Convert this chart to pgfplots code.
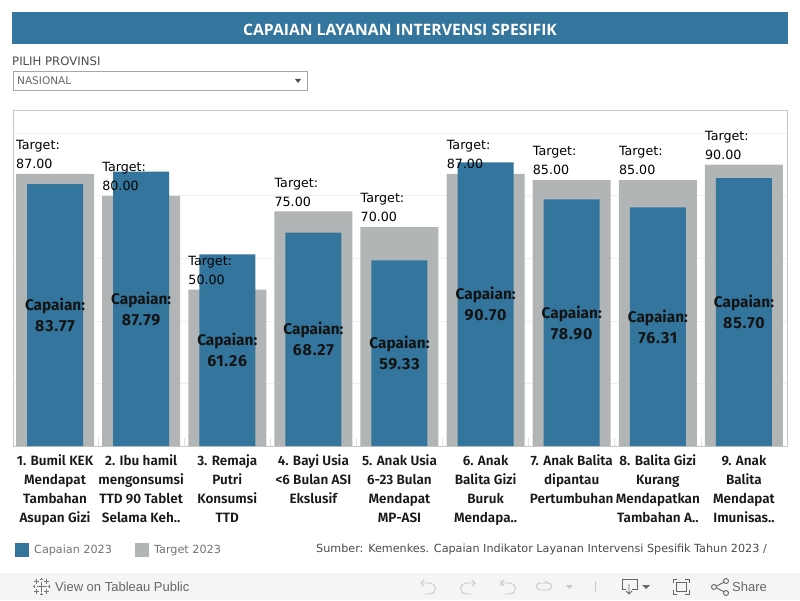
\documentclass[border=0pt]{standalone}
\usepackage{fontspec}
\usepackage{pgfplots}
\pgfplotsset{compat=1.18}
\setmainfont{DejaVu Sans}
\newfontfamily\tickf{Fira Sans}[UprightFont=* SemiBold,BoldFont=* Bold]
\newfontfamily\titlef{Open Sans}
\newfontfamily\uif{Liberation Sans}
\newcommand{\dg}[1]{{\fontsize{16}{20.5}\selectfont\addfontfeature{LetterSpace=5}#1}}
\definecolor{capc}{HTML}{33759C}
\definecolor{tgtc}{HTML}{B1B5B6}
\definecolor{tbar}{HTML}{F5F5F5}
\definecolor{ico}{HTML}{777777}
\begin{document}
\begin{tikzpicture}[x=1pt,y=1pt]
\path[fill=white] (0,0) rectangle (800,600);
\begin{axis}[
  at={(13pt,154pt)},anchor=south west,scale only axis,
  width=774pt,height=335.5pt,
  xmin=-0.488,xmax=8.5,ymin=0,ymax=107.3,
  axis line style={draw=black!22,line width=0.8pt},
  ytick={0,20,40,60,80,100},yticklabels={},
  ymajorgrids,grid style={draw=black!6,line width=0.8pt},
  major tick length=0pt,
  xtick pos=bottom,
  xtick={0,...,8},
  xticklabels={
    {\strut 1. Bumil KEK\\Mendapat\\Tambahan\\Asupan Gizi},
    {\strut 2. Ibu hamil\\mengonsumsi\\TTD 90 Tablet\\Selama Keh..},
    {\strut 3. Remaja\\Putri\\Konsumsi\\TTD},
    {\strut 4. Bayi Usia\\<6 Bulan ASI\\Ekslusif},
    {\strut 5. Anak Usia\\6-23 Bulan\\Mendapat\\MP-ASI},
    {\strut 6. Anak\\Balita Gizi\\Buruk\\Mendapa..},
    {\strut 7. Anak Balita\\dipantau\\Pertumbuhan},
    {\strut 8. Balita Gizi\\Kurang\\Mendapatkan\\Tambahan A..},
    {\strut 9. Anak\\Balita\\Mendapat\\Imunisas..}},
  xticklabel style={align=center,font=\tickf\fontsize{13.5}{19}\selectfont,text=black!90,yshift=-3pt},
  extra x ticks={0.5,1.5,2.5,3.5,4.5,5.5,6.5,7.5},
  extra x tick labels={},
  extra x tick style={major tick length=8pt,tick style={draw=black!12,line width=0.6pt}},
  clip=false,
]
\addplot[ybar,bar width=78pt,bar shift=0pt,fill=tgtc,draw=none] coordinates
  {(0,87)(1,80)(2,50)(3,75)(4,70)(5,87)(6,85)(7,85)(8,90)};
\addplot[ybar,bar width=56pt,bar shift=0pt,fill=capc,draw=none] coordinates
  {(0,83.77)(1,87.79)(2,61.26)(3,68.27)(4,59.33)(5,90.70)(6,78.90)(7,76.31)(8,85.70)};
\tikzset{tl/.style={anchor=south west,align=left,inner sep=0pt,font=\fontsize{12.7}{19}\selectfont,text=black,xshift=-39pt,yshift=5pt},
         cl/.style={anchor=center,align=center,inner sep=0pt,font=\tickf\bfseries\fontsize{15.4}{21}\selectfont,text=black!92}}
\node[tl] at (axis cs:0,87) {Target:\\87.00};
\node[tl] at (axis cs:1,80) {Target:\\80.00};
\node[tl] at (axis cs:2,50) {Target:\\50.00};
\node[tl] at (axis cs:3,75) {Target:\\75.00};
\node[tl] at (axis cs:4,70) {Target:\\70.00};
\node[tl] at (axis cs:5,87) {Target:\\87.00};
\node[tl] at (axis cs:6,85) {Target:\\85.00};
\node[tl] at (axis cs:7,85) {Target:\\85.00};
\node[tl] at (axis cs:8,90) {Target:\\90.00};
\node[cl] at (axis cs:0,41.885) {Capaian:\\\dg{83.77}};
\node[cl] at (axis cs:1,43.895) {Capaian:\\\dg{87.79}};
\node[cl] at (axis cs:2,30.63) {Capaian:\\\dg{61.26}};
\node[cl] at (axis cs:3,34.135) {Capaian:\\\dg{68.27}};
\node[cl] at (axis cs:4,29.665) {Capaian:\\\dg{59.33}};
\node[cl] at (axis cs:5,45.35) {Capaian:\\\dg{90.70}};
\node[cl] at (axis cs:6,39.45) {Capaian:\\\dg{78.90}};
\node[cl] at (axis cs:7,38.155) {Capaian:\\\dg{76.31}};
\node[cl] at (axis cs:8,42.85) {Capaian:\\\dg{85.70}};
\end{axis}
\begin{scope}[yshift=600pt,y=-1pt,x=1pt]
% title bar
\fill[capc] (12,12) rectangle (788,44);
\node[text=white,font=\titlef\bfseries\fontsize{15.7}{17}\selectfont] at (400,29.5) {CAPAIAN LAYANAN INTERVENSI SPESIFIK};
% filter
\node[anchor=west,inner sep=0pt,text=black!70,font=\fontsize{11.7}{14}\selectfont] at (12,61.5) {PILIH PROVINSI};
\draw[draw=black!35,line width=0.9pt,fill=white] (13.5,71.5) rectangle (307.5,90.5);
\node[anchor=west,inner sep=0pt,text=black!60,font=\fontsize{10.5}{12}\selectfont] at (17,81) {NASIONAL};
\fill[black!70] (295,79) -- (301,79) -- (298,83) -- cycle;
% legend
\fill[capc] (15,543) rectangle (29,557);
\node[anchor=west,inner sep=0pt,text=black!55,font=\fontsize{11.2}{14}\selectfont] at (34,550.5) {Capaian 2023};
\fill[tgtc] (135,543) rectangle (149,557);
\node[anchor=west,inner sep=0pt,text=black!55,font=\fontsize{11.2}{14}\selectfont] at (154,550.5) {Target 2023};
\node[anchor=west,inner sep=0pt,text=black!70,font=\fontsize{11.2}{14}\selectfont] at (316,549.5) {Sumber: Kemenkes. Capaian Indikator Layanan Intervensi Spesifik Tahun 2023 /};
% toolbar
\fill[tbar] (0,573) rectangle (800,600);
\begin{scope}[shift={(41.5,586.5)},draw=ico,line width=0.8pt]
\draw (-5,0) -- (5,0) (0,-5) -- (0,5);
\foreach \p/\q in {-5/-5,5/-5,-5/5,5/5} {\draw (\p-2.5,\q) -- (\p+2.5,\q) (\p,\q-2.5) -- (\p,\q+2.5);}
\foreach \p/\q in {-7.5/0,7.5/0,0/-7.5,0/7.5} {\draw (\p-1.2,\q) -- (\p+1.2,\q) (\p,\q-1.2) -- (\p,\q+1.2);}
\end{scope}
\node[anchor=west,inner sep=0pt,text=black!60,font=\uif\fontsize{13}{14}\selectfont] at (55,586.5) {View on Tableau Public};
\begin{scope}[draw=black!22,line width=0.9pt]
\draw (421,583) -- (430,583) arc (-90:90:5.5) -- (425,594);
\draw (421,583) -- (424,580) (421,583) -- (424,586);
\draw (475,583) -- (466,583) arc (270:90:5.5) -- (471,594);
\draw (475,583) -- (472,580) (475,583) -- (472,586);
\draw (501,583) -- (510,583) arc (-90:90:5.5) -- (505,594);
\draw (501,580) -- (501,586) (501,583) -- (504,580) (501,583) -- (504,586);
\draw (540,583) -- (548,583) arc (-90:90:3.5) -- (540,590) arc (90:270:3.5);
\draw (548,583) -- (545,581);
\fill[black!22] (566,585) -- (573,585) -- (569.5,589) -- cycle;
\draw (595,581) -- (595,592);
\end{scope}
\begin{scope}[draw=black!60,line width=0.9pt]
\draw (626,589) -- (622,589) -- (622,579) -- (637,579) -- (637,589) -- (632,589);
\draw (629,584) -- (629,594) (626,591) -- (629,594) -- (632,591);
\fill[black!60] (642,585) -- (650,585) -- (646,589) -- cycle;
\draw (677,579) -- (673,579) -- (673,583) (685,579) -- (689,579) -- (689,583) (677,594) -- (673,594) -- (673,590) (685,594) -- (689,594) -- (689,590);
\draw (676,582) rectangle (686,591);
\draw (715,587) -- (726,581) (715,587) -- (726,593);
\fill[tbar] (714,587) circle (2.5) (726,581) circle (2.5) (726,593) circle (2.5);
\draw (714,587) circle (2.5) (726,581) circle (2.5) (726,593) circle (2.5);
\end{scope}
\node[anchor=west,inner sep=0pt,text=black!60,font=\uif\fontsize{13}{14}\selectfont] at (732,586.5) {Share};
\end{scope}
\end{tikzpicture}
\end{document}
